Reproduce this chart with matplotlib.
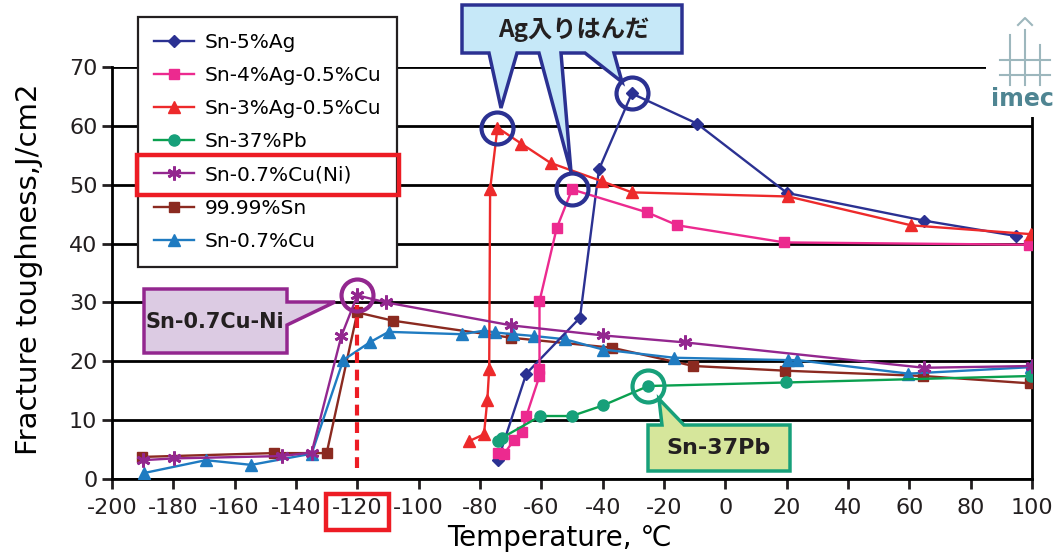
import numpy as np
import matplotlib.pyplot as plt
from matplotlib.patches import Polygon, Rectangle
from matplotlib.transforms import Affine2D

W, H = 1057, 555

# values (temperature in C, fracture toughness in J/cm2)
ag5_t = [-74.1, -64.9, -47.4, -41.2, -30.5, -9.3, 20.1, 64.8, 94.7]
ag5_v = [3.3, 17.9, 27.4, 52.6, 65.5, 60.4, 48.6, 43.9, 41.3]

ag4_t = [-74.1, -72.1, -68.8, -66.2, -64.9, -60.6, -60.6, -60.6, -55.0, -50.0, -25.5, -15.6, 19.2, 99.0]
ag4_v = [4.5, 4.3, 6.7, 8.0, 10.7, 17.5, 18.7, 30.2, 42.6, 49.2, 45.3, 43.1, 40.2, 39.8]

ag3_t = [-83.7, -78.7, -77.6, -77.0, -76.7, -74.3, -66.6, -57.0, -40.3, -30.5, 20.5, 60.6, 99.7]
ag3_v = [6.4, 7.6, 13.5, 18.75, 49.2, 59.7, 57.0, 53.7, 50.6, 48.7, 48.0, 43.1, 41.6]

pb_t = [-74.1, -72.8, -60.3, -50.1, -39.9, -25.1, 19.9, 99.6]
pb_v = [6.5, 7.0, 10.7, 10.7, 12.5, 15.8, 16.4, 17.5]

ni_t = [-190.0, -179.7, -144.6, -134.9, -125.2, -120.0, -110.6, -69.8, -40.0, -13.0, 64.8, 100.0]
ni_v = [3.2, 3.5, 3.9, 4.5, 24.3, 31.2, 30.0, 26.1, 24.4, 23.2, 18.9, 19.2]

sn_t = [-190.2, -147.3, -130.0, -120.0, -108.4, -69.8, -36.9, -10.4, 19.6, 64.5, 99.4]
sn_v = [3.75, 4.4, 4.4, 28.3, 26.9, 24.0, 22.3, 19.2, 18.4, 17.5, 16.25]

cu_t = [-189.7, -169.4, -154.6, -134.9, -124.6, -116.0, -109.8, -85.9, -78.7, -75.0, -69.2,
        -62.5, -52.4, -39.9, -16.7, 20.5, 23.4, 59.7, 99.6]
cu_v = [1.0, 3.2, 2.4, 4.3, 20.2, 23.2, 25.0, 24.6, 25.2, 24.9, 24.6,
        24.3, 23.75, 22.0, 20.6, 20.2, 20.2, 17.9, 19.0]

labels = ['Sn-5%Ag', 'Sn-4%Ag-0.5%Cu', 'Sn-3%Ag-0.5%Cu', 'Sn-37%Pb',
          'Sn-0.7%Cu(Ni)', '99.99%Sn', 'Sn-0.7%Cu']
xticks = list(range(-200, 101, 20))
yticks = list(range(0, 71, 10))

navy = '#2b3192'
pink = '#ec2a8f'
red = '#ed2a2b'
green = '#0aa04f'
teal = '#17a07a'
purple = '#93278f'
brown = '#8b2a20'
blue = '#1f7bc1'

plt.rcParams['axes.unicode_minus'] = False

fig = plt.figure(figsize=(W / 100, H / 100), dpi=100)
ax = fig.add_axes([112 / W, 1 - 479 / H, 920 / W, 412 / H])
px = Affine2D().scale(1 / W, -1 / H).translate(0, 1) + fig.transFigure

lw = 1.7
h = []
h += ax.plot(ag5_t, ag5_v, color=navy, lw=lw, marker='D', ms=6, zorder=4)
h += ax.plot(ag4_t, ag4_v, color=pink, lw=lw, marker='s', ms=7, zorder=4)
h += ax.plot(ag3_t, ag3_v, color=red, lw=lw, marker='^', ms=8, zorder=4)
h += ax.plot(pb_t, pb_v, color=green, lw=lw, marker='o', ms=8, mfc=teal, mec=teal, zorder=4)
h += ax.plot(ni_t, ni_v, color=purple, lw=lw, marker=(6, 2, 0), ms=10, mew=2, zorder=4)
h += ax.plot(sn_t, sn_v, color=brown, lw=lw, marker='s', ms=7, zorder=3)
h += ax.plot(cu_t, cu_v, color=blue, lw=lw, marker='^', ms=8, zorder=3)

ax.set_xlim(-200, 100)
ax.set_ylim(0, 70)
ax.set_xticks(xticks)
ax.set_yticks(yticks)
ax.yaxis.grid(True, color='black', lw=2)
ax.set_axisbelow(True)
ax.spines['top'].set_visible(False)
for s in ['left', 'bottom', 'right']:
    ax.spines[s].set_linewidth(2)
ax.tick_params(direction='out', length=7, width=2, labelsize=16, colors='#231f20')
ax.tick_params(axis='x', pad=7)

ax.set_xlabel('Temperature, ℃', fontsize=20, family=['DejaVu Sans', 'Noto Sans CJK JP'])
ax.xaxis.set_label_coords(0.486, -0.11)
ax.set_ylabel('Fracture toughness,J/cm2', fontsize=21)
ax.yaxis.set_label_coords(-0.075, 0.51)

leg = ax.legend(h, labels, loc='upper left', bbox_to_anchor=(138 / W, 1 - 17 / H),
                bbox_transform=fig.transFigure, fontsize=14.5, fancybox=False,
                edgecolor='#231f20', framealpha=1, borderaxespad=0, borderpad=0.8,
                labelspacing=0.7, handlelength=2.0, handletextpad=0.5)
leg.get_frame().set_linewidth(1.6)
leg.set_zorder(7)

# circles on the notable points
ax.plot(ni_t[5], ni_v[5], 'o', ms=23, mfc='none', mec=purple, mew=3, zorder=6, clip_on=False)
ax.plot(ag3_t[5], ag3_v[5], 'o', ms=23, mfc='none', mec=navy, mew=3, zorder=6)
ax.plot(ag4_t[9], ag4_v[9], 'o', ms=23, mfc='none', mec=navy, mew=3, zorder=6)
ax.plot(ag5_t[4], ag5_v[4], 'o', ms=23, mfc='none', mec=navy, mew=3, zorder=6)
ax.plot(pb_t[5], pb_v[5], 'o', ms=23, mfc='none', mec=teal, mew=3, zorder=6)

# red dashed line at -120
ax.vlines(-120, 1.8, 29.5, colors='#ed1c24', lw=3, linestyles=(0, (2.6, 1.6)), zorder=5)

# callouts
ag_box = [(462, 5), (682, 5), (682, 53), (614, 53), (622, 82), (585, 53), (561, 53), (571, 172),
          (539, 53), (517, 53), (501, 108), (489, 53), (462, 53)]
fig.add_artist(Polygon(ag_box, closed=True, transform=px, fc='#c6e8f8', ec=navy, lw=2.5,
                       joinstyle='miter', zorder=8))
fig.text(574 / W, 1 - 30 / H, 'Ag入りはんだ', fontsize=17.5, fontweight='bold',
         family=['Noto Sans CJK JP'], color='#231f20', ha='center', va='center', zorder=9)

ni_box = [(144, 289), (287, 289), (287, 302), (335, 302), (287, 325), (287, 353), (144, 353)]
fig.add_artist(Polygon(ni_box, closed=True, transform=px, fc='#dccbe3', ec=purple, lw=2.5,
                       joinstyle='miter', zorder=8))
fig.text(215 / W, 1 - 322 / H, 'Sn-0.7Cu-Ni', fontsize=15, fontweight='bold',
         color='#231f20', ha='center', va='center', zorder=9)

pb_box = [(648, 425), (662, 425), (659, 399), (684, 425), (790, 425), (790, 471), (648, 471)]
fig.add_artist(Polygon(pb_box, closed=True, transform=px, fc='#d6e69b', ec=teal, lw=2.5,
                       joinstyle='miter', zorder=8))
fig.text(719 / W, 1 - 448 / H, 'Sn-37Pb', fontsize=16, fontweight='bold',
         color='#231f20', ha='center', va='center', zorder=9)

# red highlight boxes
fig.add_artist(Rectangle((137, 155), 262, 40, transform=px, fc='none', ec='#ed1c24', lw=3.2, zorder=9))
fig.add_artist(Rectangle((326, 494), 63, 36, transform=px, fc='none', ec='#ed1c24', lw=3.2, zorder=9))

# imec logo corner
fig.add_artist(Rectangle((986, 0), 71, 117, transform=px, fc='white', ec='none', zorder=8))
logo = '#9db7bd'
for seg in [[(1000, 60), (1050, 60)], [(1000, 75), (1050, 75)], [(1010, 35), (1010, 85)],
            [(1025, 30), (1025, 85)], [(1040, 45), (1040, 85)], [(1018, 25), (1025, 18), (1032, 25)]]:
    xs, ys = zip(*seg)
    fig.add_artist(plt.Line2D(xs, ys, transform=px, color=logo, lw=1.5, zorder=9))
fig.text(1022 / W, 1 - 99 / H, 'imec', fontsize=17, fontweight='bold', color='#4f8592',
         ha='center', va='center', zorder=9)

fig.savefig('out.png', dpi=100)
